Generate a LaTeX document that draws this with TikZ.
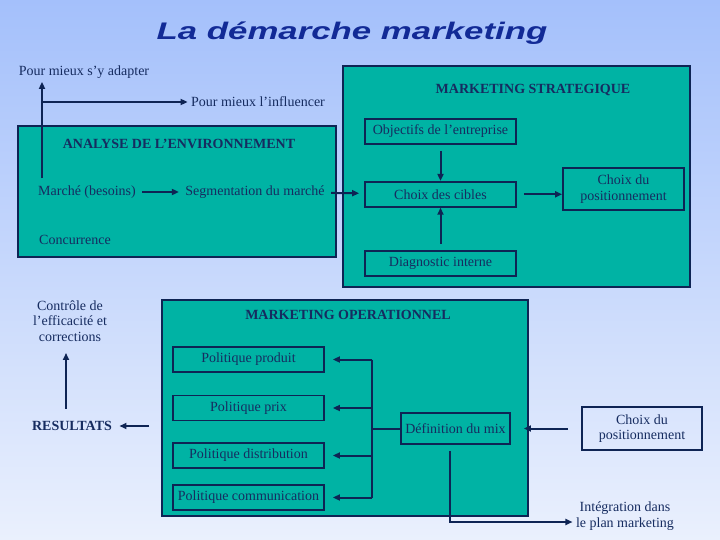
\documentclass[tikz,border=0pt]{standalone}
\usepackage{fontspec}
\setmainfont{Liberation Serif}
\newfontfamily\titlefont{Liberation Sans}
\usetikzlibrary{calc, arrows.meta, positioning}
\definecolor{bgtop}{RGB}{164,192,251}
\definecolor{bgbot}{RGB}{234,240,253}
\definecolor{boxfill}{RGB}{0,179,164}
\definecolor{linenavy}{RGB}{14,36,84}
\definecolor{textnavy}{RGB}{22,44,96}
\definecolor{titleblue}{RGB}{18,42,150}

\begin{document}
\begin{tikzpicture}[x=1pt, y=-1pt,
   font=\fontsize{14}{15.5}\selectfont, text=textnavy,
   >={Triangle[length=7pt,width=6pt]},
   area/.style = {draw=linenavy, line width=1.8pt, fill=boxfill},
   box/.style = {draw=linenavy, line width=1.8pt, minimum width=151pt, minimum height=25pt, inner sep=2pt},
   head/.style = {font=\fontsize{14}{15.5}\selectfont\bfseries},
   arr/.style = {->, draw=linenavy, line width=2pt},
   wire/.style = {draw=linenavy, line width=2pt}]
   \fill[top color=bgtop, bottom color=bgbot] (0,0) rectangle (720,540);

   \node[font=\titlefont\fontsize{24}{30}\selectfont\bfseries\itshape, text=titleblue, xscale=1.45] (title) at (352,33) {La démarche marketing};

   \node[area, minimum width=318pt, minimum height=131pt] (analyse) at (177,191.5) {};
   \node[area, minimum width=347pt, minimum height=221pt] (strat) at (516.5,176.5) {};
   \node[area, minimum width=366pt, minimum height=216pt] (oper) at (345,408) {};

   \node (adapter) at (84,72) {Pour mieux s'y adapter};
   \node (influencer) at (258,102) {Pour mieux l'influencer};
   \node[head] (analysetitle) at (179,144) {ANALYSE DE L'ENVIRONNEMENT};
   \node (marche) at (87,192) {Marché (besoins)};
   \node (segm) at (255,192) {Segmentation du marché};
   \node (conc) at (75,240) {Concurrence};

   \node[head] (strattitle) at (533,90) {MARKETING STRATEGIQUE};
   \node[box] (obj) at (440.5,131.5) {Objectifs de l'entreprise};
   \node[box, below=36pt of obj] (cibles) {Choix des cibles};
   \node[box, below=42pt of cibles] (diag) {Diagnostic interne};
   \node[box, minimum width=121pt, minimum height=42pt, align=center] (pos1) at (623.5,189) {Choix du\\positionnement};

   \node[head] (opertitle) at (348,315) {MARKETING OPERATIONNEL};
   \node[box] (produit) at (248.5,359.5) {Politique produit};
   \node[box] (prix) at (248.5,408) {Politique prix};
   \node[box] (distrib) at (248.5,455.5) {Politique distribution};
   \node[box] (comm) at (248.5,497.5) {Politique communication};
   \node[box, minimum width=109pt, minimum height=31pt] (mix) at (455.5,428.5) {Définition du mix};
   \node[box, minimum width=120pt, minimum height=43pt, align=center] (pos2) at (642,428.5) {Choix du\\positionnement};
   \node[align=center] (integ) at (625,516) {Intégration dans\\le plan marketing};

   \node[align=center] (controle) at (70,321) {Contrôle de\\l'efficacité et\\corrections};
   \node[head] (resultats) at (72,426) {RESULTATS};

   \coordinate (fork) at (42,102);
   \coordinate (bus) at (372,360);
   \draw[arr, shorten <=4pt] (marche.north -| fork) -- (adapter.south -| fork);
   \draw[arr] (fork) -- (influencer.west);
   \draw[arr, shorten <=3pt, shorten >=3pt] (marche) -- (segm);
   \draw[arr, shorten <=3pt, shorten >=5pt] (segm) -- (cibles);
   \draw[arr, shorten <=6pt] (obj) -- (cibles);
   \draw[arr, shorten <=6pt] (diag) -- (cibles);
   \draw[arr, shorten <=7pt] (cibles.east) -- (cibles.east -| pos1.west);

   \draw[wire] (produit.east -| bus) -- (comm.east -| bus);
   \draw[arr, shorten >=8pt] (produit.east -| bus) -- (produit.east);
   \draw[arr, shorten >=8pt] (prix.east -| bus) -- (prix.east);
   \draw[arr, shorten >=8pt] (distrib.east -| bus) -- (distrib.east);
   \draw[arr, shorten >=8pt] (comm.east -| bus) -- (comm.east);
   \draw[wire] (mix.west) -- (mix.west -| bus);
   \draw[arr, shorten <=13pt, shorten >=13pt] (pos2) -- (mix);
   \draw[arr] ($(mix.south)+(-6,6)$) |- ($(integ.west)+(0,6)$);

   \draw[arr, shorten <=12pt, shorten >=4pt] (oper.west |- resultats) -- (resultats.east);
   \draw[arr, shorten <=9pt, shorten >=8pt] ($(resultats.north)+(-6,0)$) -- ($(controle.south)+(-4,0)$);
\end{tikzpicture}
\end{document}
